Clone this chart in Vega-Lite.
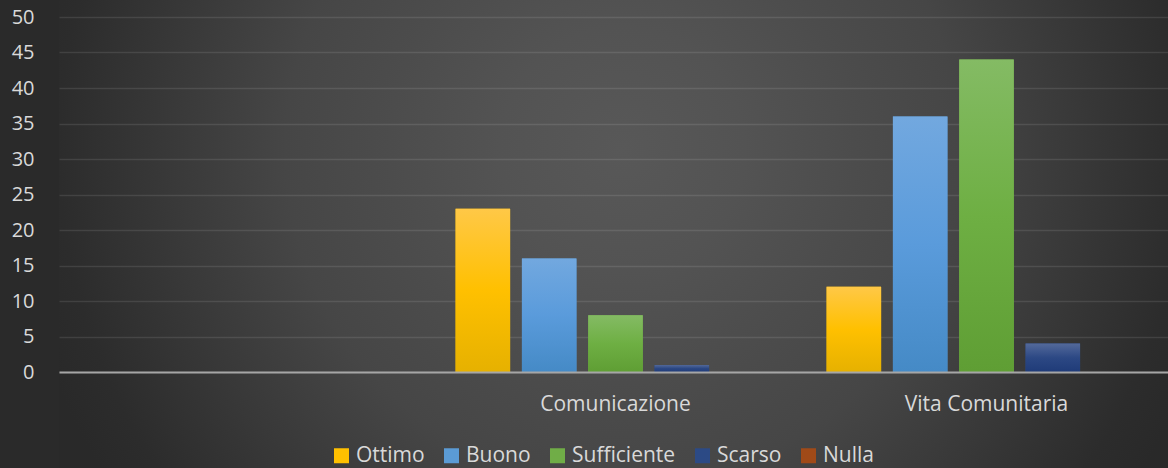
{
  "$schema": "https://vega.github.io/schema/vega-lite/v6.json",
  "width": 1113,
  "height": 468,
  "autosize": "none",
  "padding": {"left": 59, "top": 0, "right": 0, "bottom": 0},
  "background": "#2a2a2a",
  "data": {
    "values": [
      {"cat": "Comunicazione", "level": "Ottimo", "value": 23},
      {"cat": "Comunicazione", "level": "Buono", "value": 16},
      {"cat": "Comunicazione", "level": "Sufficiente", "value": 8},
      {"cat": "Comunicazione", "level": "Scarso", "value": 1},
      {"cat": "Comunicazione", "level": "Nulla", "value": 0},
      {"cat": "Vita Comunitaria", "level": "Ottimo", "value": 12},
      {"cat": "Vita Comunitaria", "level": "Buono", "value": 36},
      {"cat": "Vita Comunitaria", "level": "Sufficiente", "value": 44},
      {"cat": "Vita Comunitaria", "level": "Scarso", "value": 4},
      {"cat": "Vita Comunitaria", "level": "Nulla", "value": 0}
    ]
  },
  "encoding": {
    "x": {
      "field": "cat",
      "type": "nominal",
      "sort": null,
      "scale": {"domain": ["", "Comunicazione", "Vita Comunitaria"], "paddingInner": 0, "paddingOuter": 0},
      "axis": {
        "title": null,
        "ticks": false,
        "grid": false,
        "domain": true,
        "domainColor": "#A6A6A6",
        "domainWidth": 2,
        "labelPadding": 21,
        "labelAngle": 0,
        "labelFont": "Open Sans",
        "labelFontSize": 21,
        "labelColor": "#D9D9D9",
        "offset": -96,
        "zindex": 1
      }
    },
    "xOffset": {
      "field": "level",
      "type": "nominal",
      "sort": null,
      "scale": {"domain": ["Ottimo", "Buono", "Sufficiente", "Scarso", "Nulla"], "paddingInner": 0.178, "paddingOuter": 0.386}
    },
    "y": {
      "field": "value",
      "type": "quantitative",
      "scale": {"domain": [0, 50], "range": [372, 17], "nice": false, "zero": true},
      "axis": {
        "title": null,
        "values": [0, 5, 10, 15, 20, 25, 30, 35, 40, 45, 50],
        "domain": false,
        "ticks": false,
        "labelPadding": 25,
        "labelFont": "Open Sans",
        "labelFontSize": 20,
        "labelColor": "#D9D9D9",
        "grid": true,
        "gridColor": "#ffffff",
        "gridOpacity": 0.1,
        "gridWidth": 1.5,
        "zindex": 0
      }
    }
  },
  "layer": [
    {
      "mark": {"type": "bar"},
      "encoding": {
        "color": {
          "field": "level",
          "type": "nominal",
          "sort": null,
          "scale": {
            "domain": ["Ottimo", "Buono", "Sufficiente", "Scarso", "Nulla"],
            "range": ["#FFC000", "#5B9BD5", "#70AD47", "#2C4A85", "#A04A18"]
          },
          "legend": {
            "title": null,
            "orient": "none",
            "legendX": 272,
            "legendY": 445,
            "direction": "horizontal",
            "symbolType": "square",
            "symbolSize": 225,
            "symbolStrokeWidth": 0,
            "labelFont": "Open Sans",
            "labelFontSize": 21,
            "labelColor": "#D9D9D9",
            "labelOffset": 4,
            "columnPadding": 16,
            "padding": 0
          }
        }
      }
    },
    {
      "mark": {"type": "bar", "strokeWidth": 0},
      "encoding": {
        "fill": {
          "condition": [
            {"test": "datum.level === 'Ottimo'", "value": {"gradient": "linear", "x1": 0, "y1": 0, "x2": 0, "y2": 1, "stops": [{"offset": 0, "color": "#FFC847"}, {"offset": 0.5, "color": "#FFC000"}, {"offset": 1, "color": "#E6B100"}]}},
            {"test": "datum.level === 'Buono'", "value": {"gradient": "linear", "x1": 0, "y1": 0, "x2": 0, "y2": 1, "stops": [{"offset": 0, "color": "#72A8DF"}, {"offset": 0.5, "color": "#5A9BDB"}, {"offset": 1, "color": "#458AC6"}]}},
            {"test": "datum.level === 'Sufficiente'", "value": {"gradient": "linear", "x1": 0, "y1": 0, "x2": 0, "y2": 1, "stops": [{"offset": 0, "color": "#84BB64"}, {"offset": 0.5, "color": "#6EAF43"}, {"offset": 1, "color": "#5F9E34"}]}},
            {"test": "datum.level === 'Scarso'", "value": {"gradient": "linear", "x1": 0, "y1": 0, "x2": 0, "y2": 1, "stops": [{"offset": 0, "color": "#53699A"}, {"offset": 0.5, "color": "#2C4884"}, {"offset": 1, "color": "#1F3B78"}]}}
          ],
          "value": {"gradient": "linear", "x1": 0, "y1": 0, "x2": 0, "y2": 1, "stops": [{"offset": 0, "color": "#AE5A2C"}, {"offset": 1, "color": "#9A420E"}]}
        }
      }
    }
  ],
  "config": {
    "font": "Open Sans",
    "view": {
      "stroke": null,
      "fill": {
        "gradient": "radial",
        "x1": 0.506, "y1": 0.424, "r1": 0,
        "x2": 0.506, "y2": 0.424, "r2": 0.55,
        "stops": [
          {"offset": 0, "color": "#585858"},
          {"offset": 0.2, "color": "#535353"},
          {"offset": 0.38, "color": "#4c4c4c"},
          {"offset": 0.55, "color": "#464646"},
          {"offset": 0.92, "color": "#2c2c2c"},
          {"offset": 1, "color": "#292929"}
        ]
      }
    }
  }
}
